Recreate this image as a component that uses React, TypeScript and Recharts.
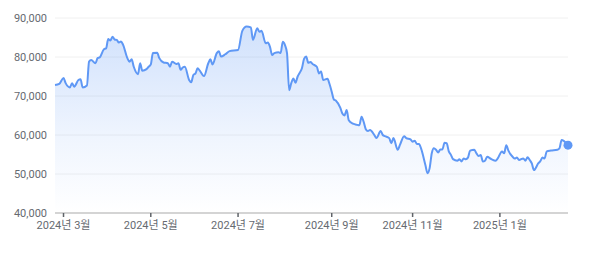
import { Area, AreaChart, CartesianGrid, XAxis, YAxis } from "recharts";

// trading-day index, closing price
const closes: [number, number][] = [
  [0, 72800], [2, 73100], [4, 74600], [5, 73300], [7, 72200], [8, 73300], [9, 72400],
  [11, 74100], [12, 74300], [13, 72200], [15, 72700], [16, 78800], [17, 79200], [19, 78400],
  [20, 79700], [21, 79900], [23, 82000], [24, 82200], [25, 84600], [26, 84200], [27, 85200],
  [28, 84500], [29, 84400], [30, 83700], [31, 84000], [32, 83100], [34, 79700], [35, 78800],
  [36, 79400], [37, 77500], [39, 75600], [40, 78400], [41, 76500], [43, 76900], [44, 77500],
  [45, 78100], [46, 81000], [48, 81100], [49, 79700], [51, 78600], [53, 78400], [54, 77500],
  [55, 78800], [57, 78200], [58, 78400], [59, 76700], [60, 77300], [61, 77500], [63, 74100],
  [64, 73500], [65, 75400], [66, 75800], [67, 77100], [68, 76500], [70, 75100], [72, 78400],
  [73, 79400], [74, 78100], [76, 81000], [77, 81500], [78, 80100], [80, 80700], [82, 81500],
  [86, 81800], [88, 86700], [90, 87800], [92, 87600], [93, 84400], [95, 87400], [96, 86500],
  [97, 86700], [99, 83500], [100, 83700], [101, 82600], [102, 80500], [103, 81000], [105, 81200],
  [106, 81000], [107, 83900], [108, 83100], [109, 81000], [110, 71500], [111, 73300], [112, 74500],
  [113, 73400], [114, 75000], [115, 76000], [116, 77100], [117, 79500], [118, 80100], [119, 78500],
  [120, 78700], [121, 78200], [123, 77500], [124, 75800], [125, 76300], [126, 74100], [128, 74400],
  [129, 73000], [130, 71100], [131, 69100], [132, 68800], [134, 67000], [135, 65500], [136, 65000],
  [137, 66400], [138, 63800], [140, 62900], [142, 62600], [143, 62500], [144, 64700], [145, 63400],
  [146, 61500], [147, 61000], [148, 61300], [150, 60000], [151, 59200], [153, 61000], [154, 60000],
  [155, 59700], [157, 59200], [158, 57900], [159, 59200], [161, 56200], [162, 57400], [164, 59700],
  [165, 59200], [167, 58900], [168, 58300], [169, 58500], [170, 57700], [171, 57700], [172, 56500],
  [174, 52300], [175, 50200], [176, 51500], [177, 55300], [178, 56600], [179, 56200], [180, 55500],
  [181, 56300], [182, 56300], [183, 58000], [184, 57900], [185, 55800], [186, 54900], [187, 53800],
  [189, 53400], [190, 53800], [191, 53200], [192, 54000], [193, 53800], [194, 54200], [195, 56000],
  [197, 56200], [198, 55300], [199, 54600], [200, 54900], [201, 53200], [202, 53400], [203, 54400],
  [205, 53800], [207, 53400], [208, 54000], [210, 55800], [211, 55300], [212, 57400], [213, 56000],
  [215, 54400], [216, 54000], [217, 54200], [218, 53600], [220, 54000], [221, 53400], [222, 54300],
  [223, 53600], [224, 52700], [225, 51000], [227, 52700], [228, 53300], [229, 54200], [230, 54000],
  [231, 55800], [233, 56000], [236, 56200], [237, 56600], [238, 58700], [239, 58500], [240, 58000],
  [241, 57400],
];

const monthTicks = [4, 45, 86, 130, 168, 209];
const monthLabels = ["2024년 3월", "2024년 5월", "2024년 7월", "2024년 9월", "2024년 11월", "2025년 1월"];
const priceTicks = [40000, 50000, 60000, 70000, 80000, 90000];

const data = closes.map(([day, price]) => ({ day, price }));
const lastIndex = data.length - 1;

const LINE = "#5f98f5";
const FONT = "Roboto, 'Noto Sans CJK KR', sans-serif";

export default function App() {
  return (
    <div style={{ position: "absolute", left: 0, top: 0, width: 600, height: 254, background: "#fff" }}>
      <AreaChart width={600} height={254} data={data} margin={{ top: 18, right: 32, left: 0, bottom: 11 }}>
        <defs>
          <linearGradient id="priceFill" x1="0" y1="0" x2="0" y2="1">
            <stop offset="0%" stopColor={LINE} stopOpacity={0.48} />
            <stop offset="60%" stopColor={LINE} stopOpacity={0.16} />
            <stop offset="100%" stopColor={LINE} stopOpacity={0} />
          </linearGradient>
        </defs>
        <CartesianGrid stroke="#f0f0f0" vertical={false} />
        <XAxis
          dataKey="day"
          type="number"
          domain={[0, 241]}
          ticks={monthTicks}
          tickFormatter={(v: number) => monthLabels[monthTicks.indexOf(v)] ?? ""}
          tick={{ fill: "#666a70", fontSize: 11, fontFamily: FONT }}
          tickLine={{ stroke: "#5f6368", strokeWidth: 1.5 }}
          tickSize={4}
          tickMargin={4}
          axisLine={{ stroke: "#c8c8c8", strokeWidth: 1.5 }}
          height={30}
          interval={0}
        />
        <YAxis
          domain={[40000, 90000]}
          ticks={priceTicks}
          tickFormatter={(v: number) => v.toLocaleString("en-US")}
          tick={{ fill: "#666a70", fontSize: 11, fontFamily: FONT }}
          tickLine={false}
          axisLine={false}
          width={55}
          interval={0}
        />
        <Area
          type="monotone"
          dataKey="price"
          stroke={LINE}
          strokeWidth={2}
          fill="url(#priceFill)"
          baseValue={40000}
          isAnimationActive={false}
          activeDot={false}
          dot={(props: any) => {
            const { cx, cy, index } = props;
            if (index !== lastIndex) return <g key={`d-${index}`} />;
            return <circle key={`d-${index}`} cx={cx} cy={cy} r={4.5} fill={LINE} stroke="none" />;
          }}
        />
      </AreaChart>
    </div>
  );
}
